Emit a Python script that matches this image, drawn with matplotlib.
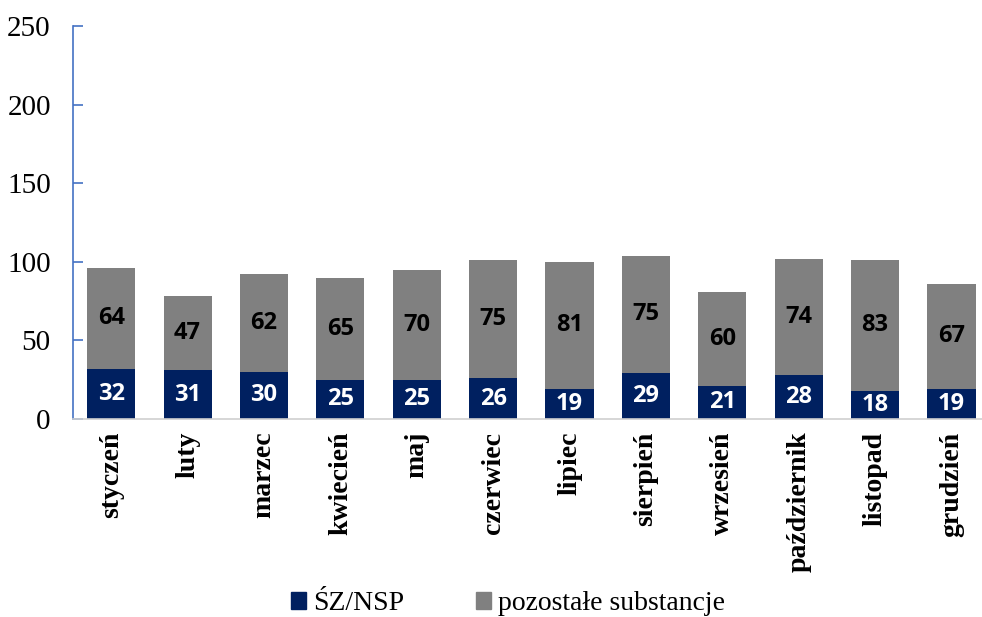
import matplotlib.pyplot as plt
from matplotlib.patches import Patch

months = ["styczeń", "luty", "marzec", "kwiecień", "maj", "czerwiec",
          "lipiec", "sierpień", "wrzesień", "październik", "listopad", "grudzień"]
sz_nsp = [32, 31, 30, 25, 25, 26, 19, 29, 21, 28, 18, 19]
pozostale = [64, 47, 62, 65, 70, 75, 81, 75, 60, 74, 83, 67]

navy = "#002060"
gray = "#808080"

fig = plt.figure(figsize=(9.82, 6.17), dpi=100)
ax = fig.add_axes([73 / 982, 1 - 419 / 617, 1 - 73 / 982, 393 / 617])

x = list(range(len(months)))
ax.bar(x, sz_nsp, width=0.63, color=navy)
ax.bar(x, pozostale, width=0.63, bottom=sz_nsp, color=gray)

for i in x:
    ax.text(i, sz_nsp[i] / 2, str(sz_nsp[i]), ha="center", va="center",
            color="white", fontsize=17, fontweight="bold", family="Open Sans")
    ax.text(i, sz_nsp[i] + pozostale[i] / 2, str(pozostale[i]), ha="center",
            va="center", color="black", fontsize=17, fontweight="bold",
            family="Open Sans")

ax.set_xlim(-0.5, 11.4)
ax.set_ylim(0, 250)
ax.set_yticks([0, 50, 100, 150, 200, 250])
ax.set_xticks(x)
ax.set_xticklabels(months, rotation=90, fontsize=20, fontweight="bold",
                   family="Liberation Serif")
for lab in ax.get_yticklabels():
    lab.set_family("Liberation Serif")
    lab.set_fontsize(21)

for s in ["top", "right"]:
    ax.spines[s].set_visible(False)
ax.spines["left"].set_color("#4472C4")
ax.spines["left"].set_linewidth(1.2)
ax.spines["bottom"].set_color("#d0d0d0")
ax.spines["bottom"].set_linewidth(1.2)
ax.tick_params(axis="y", direction="in", length=7, color="#4472C4", width=1.2, pad=16)
ax.tick_params(axis="x", length=0, pad=9)

handles = [Patch(color=navy), Patch(color=gray)]
fig.legend(handles, ["ŚZ/NSP", "pozostałe substancje"], loc="center",
           bbox_to_anchor=(508 / 982, 1 - 604 / 617), ncol=2, frameon=False,
           prop={"family": "Liberation Serif", "size": 20},
           handlelength=0.55, handleheight=0.55, handletextpad=0.25,
           columnspacing=2.6)

fig.savefig("out.png", dpi=100)
